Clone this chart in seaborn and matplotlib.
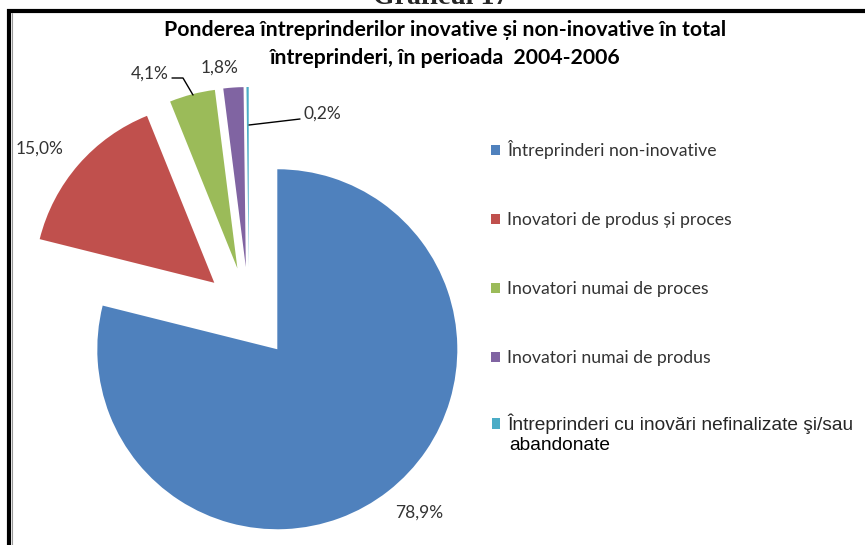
import matplotlib
matplotlib.use("Agg")
import matplotlib.pyplot as plt
import seaborn as sns

sns.set_theme(style="white")
plt.rcParams["font.family"] = ["Lato", "DejaVu Sans"]

# Data
categories = [
    "Întreprinderi non-inovative",
    "Inovatori de produs și proces",
    "Inovatori numai de proces",
    "Inovatori numai de produs",
    "Întreprinderi cu inovări nefinalizate şi/sau",
]
shares = [78.9, 15.0, 4.1, 1.8, 0.2]
share_labels = ["78,9%", "15,0%", "4,1%", "1,8%", "0,2%"]
colors = ["#4F81BD", "#C0504D", "#9BBB59", "#8064A2", "#4BACC6"]

W, H = 865, 545
fig = plt.figure(figsize=(W / 100, H / 100), dpi=100)
ax = fig.add_axes([0, 0, 1, 1])


def py(y):
    # image pixel row -> data y
    return H - y


wedges, _ = ax.pie(
    shares,
    colors=colors,
    startangle=90,
    counterclock=False,
    explode=[46] * len(shares),
    radius=180,
    center=(249, py(313)),
    wedgeprops=dict(linewidth=0),
)
ax.set_xlim(0, W)
ax.set_ylim(0, H)
ax.set_aspect("equal")
ax.axis("off")

# data labels
label_pos = [(419, 513), (40, 149), (150, 74), (220, 68), (322, 114)]
for txt, (x, y) in zip(share_labels, label_pos):
    ax.text(x, py(y), txt, ha="center", va="center", fontsize=12.5, color="#333333")

# leader lines
ax.plot([172, 183, 193], [py(78), py(78), py(95)], color="black", lw=1)
ax.plot([249, 300], [py(125), py(119)], color="black", lw=1)

# titles
ax.text(441, py(4.5), "Graficul 17", ha="center", va="baseline", fontsize=20,
        fontweight="bold", family=["Liberation Serif", "DejaVu Serif"], clip_on=False)
ax.text(445, py(44), "Ponderea întreprinderilor inovative și non-inovative în total\n"
        "întreprinderi, în perioada  2004-2006", ha="center", va="center",
        fontsize=15.3, fontweight="bold", linespacing=1.45, color="black")

# legend: first four entries
leg = ax.legend(wedges[:4], categories[:4], loc="upper left",
                bbox_to_anchor=(484 / W, 1 - 133 / H), frameon=False,
                fontsize=12.7, handlelength=0.5, handleheight=0.5,
                handletextpad=0.4, labelspacing=3.0, borderaxespad=0)
for t in leg.get_texts():
    t.set_color("#333333")
ax.add_artist(leg)

# last entry (different font, wraps onto a second line)
leg2 = ax.legend(wedges[4:], categories[4:], loc="center left",
                 bbox_to_anchor=(484 / W, 1 - 424 / H), frameon=False,
                 prop={"family": ["Liberation Sans", "DejaVu Sans"], "size": 13.8},
                 handlelength=0.5 * 12.7 / 13.8, handleheight=0.5 * 12.7 / 13.8,
                 handletextpad=0.4 * 12.7 / 13.8, borderaxespad=0)
ax.text(509, py(445), "abandonate", ha="left", va="center", fontsize=13.8,
        family=["Liberation Sans", "DejaVu Sans"], color="black")

# frame lines (top and left)
ax.plot([7, W], [py(11), py(11)], color="black", lw=3, clip_on=False,
        solid_capstyle="butt")
ax.plot([9, 9], [py(9), 0], color="black", lw=3, clip_on=False,
        solid_capstyle="butt")
ax.plot([11.5, 11.5], [py(13), 0], color="#999999", lw=0.8, clip_on=False)

fig.savefig("out.png", dpi=100)
